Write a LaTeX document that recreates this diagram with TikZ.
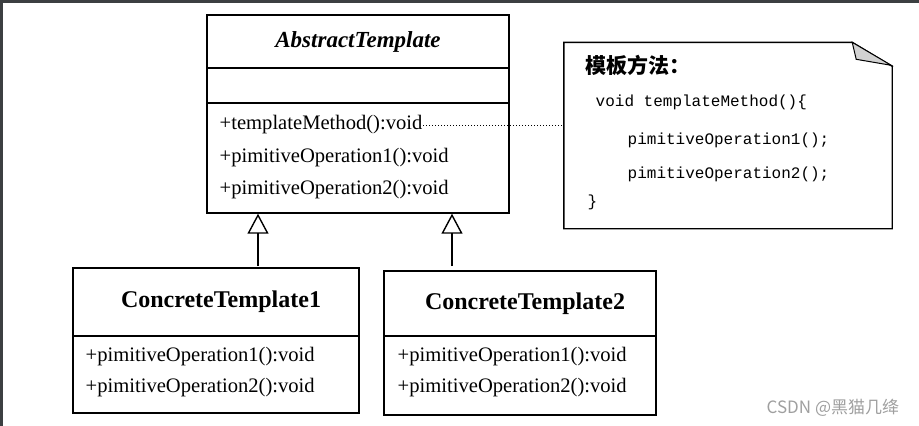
\documentclass[tikz,border=0pt]{standalone}
\usepackage{fontspec}
\setmainfont{Liberation Serif}
\setmonofont{Liberation Mono}
\newfontfamily\cjk{Noto Sans CJK SC}
\usetikzlibrary{arrows.meta,calc}
\definecolor{frame}{HTML}{3C3F41}
\begin{document}
\begin{tikzpicture}[x=1pt,y=-1pt,line width=1.4pt,
  box/.style={draw,rectangle,inner sep=0pt},
  op/.style={anchor=west,inner sep=0pt,font=\fontsize{20.6}{21}\selectfont},
  code/.style={anchor=west,inner sep=0pt,font=\ttfamily\fontsize{16}{16}\selectfont},
  inherit/.style={-{Triangle[open,width=21pt,length=20pt]}}]
  \useasboundingbox (0,0) rectangle (919,426);
  \fill[frame] (0,0) rectangle (919,3);
  \fill[frame] (0,0) rectangle (3,426);
  % abstract class
  \node[box,minimum width=302pt,minimum height=53pt,font=\bfseries\itshape\fontsize{23}{23}\selectfont] (AT) at (358,41.5) {AbstractTemplate};
  \node[box,minimum width=302pt,minimum height=35pt] (ATattr) at (358,85.5) {};
  \node[box,minimum width=302pt,minimum height=110pt] (ATops) at (358,158) {};
  \node[op] (m0) at (219,125) {+templateMethod():void};
  \node[op] (m1) at (219,158) {+pimitiveOperation1():void};
  \node[op] (m2) at (219,190) {+pimitiveOperation2():void};
  % concrete classes
  \node[box,minimum width=286pt,minimum height=68pt,font=\bfseries\fontsize{24}{24}\selectfont] (C1) at (216,302) {\hspace*{10pt}ConcreteTemplate1};
  \node[box,minimum width=286pt,minimum height=77pt] (C1ops) at (216,374.5) {};
  \node[op] (c1m1) at (85,357) {+pimitiveOperation1():void};
  \node[op] (c1m2) at (85,388) {+pimitiveOperation2():void};
  \node[box,minimum width=272pt,minimum height=65pt,font=\bfseries\fontsize{24}{24}\selectfont] (C2) at (520,303.5) {\hspace*{10pt}ConcreteTemplate2};
  \node[box,minimum width=272pt,minimum height=79pt] (C2ops) at (520,375.5) {};
  \node[op] (c2m1) at (397,357) {+pimitiveOperation1():void};
  \node[op] (c2m2) at (397,388) {+pimitiveOperation2():void};
  % generalisation
  \coordinate (g1) at (258,266);
  \coordinate (g2) at (452,266);
  \draw[inherit] (g1) -- (g1 |- ATops.south);
  \draw[inherit] (g2) -- (g2 |- ATops.south);
  % note
  \node[minimum width=327pt,minimum height=185pt,inner sep=0pt] (note) at (728,135.5) {};
  \draw (note.north west) -- ($(note.north east)+(-40,0)$) -- ($(note.north east)+(0,24)$)
    -- (note.south east) -- (note.south west) -- cycle;
  \filldraw[fill=gray!35,line width=1pt] ($(note.north east)+(-40,0)$) -- ($(note.north east)+(-36,17)$)
    -- ($(note.north east)+(-1,23)$) -- cycle;
  \draw[dotted,line width=1pt] (m0.east) -- (m0.east -| note.west);
  \node[anchor=west,inner sep=0pt,font=\cjk\bfseries\fontsize{21}{21}\selectfont] (NT) at (585,65) {模板方法：};
  \node[code] (n1) at (595,102) {void templateMethod()\{};
  \node[code] (n2) at (627,140) {pimitiveOperation1();};
  \node[code] (n3) at (627,174) {pimitiveOperation2();};
  \node[code] (n4) at (587,202) {\}};
  \node[anchor=west,inner sep=0pt,text=gray!75,font=\cjk\fontsize{17}{17}\selectfont] (wm) at (766,408) {CSDN @黑猫几绛};
\end{tikzpicture}
\end{document}
